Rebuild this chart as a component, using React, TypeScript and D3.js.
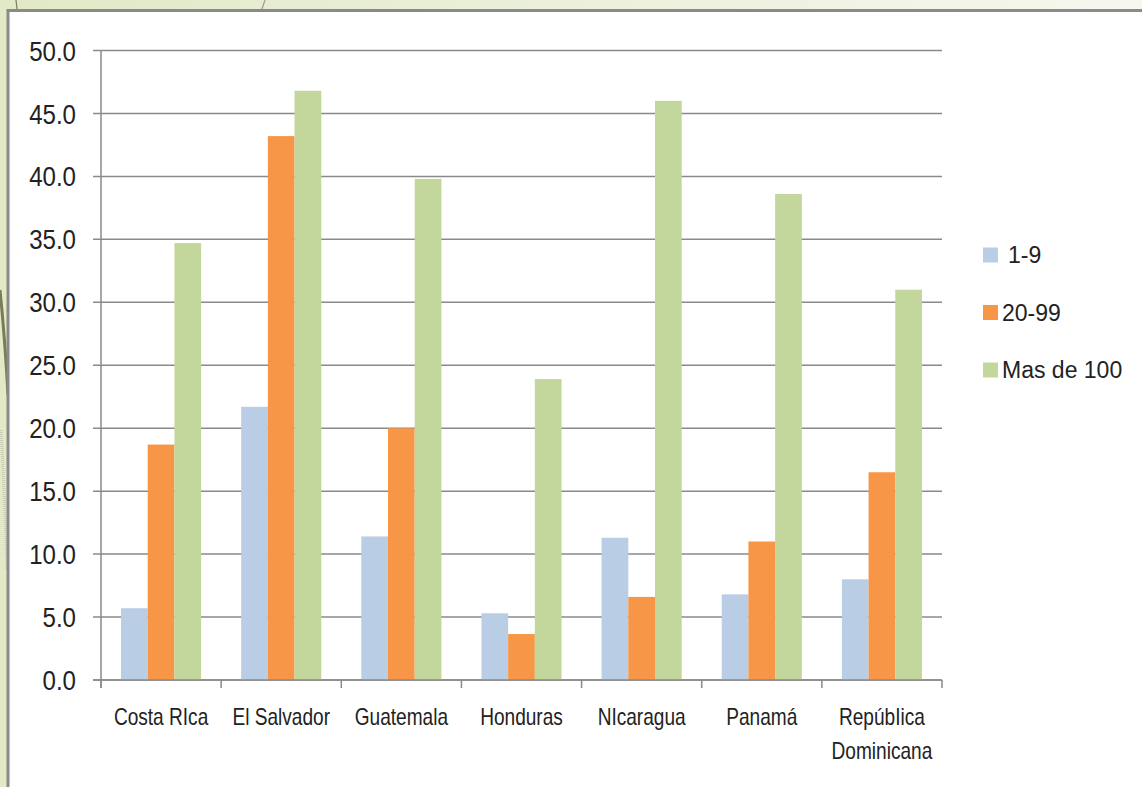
import React, { useRef, useEffect } from "react";
import * as d3 from "d3";

const categories = [
  ["Costa RIca"],
  ["El Salvador"],
  ["Guatemala"],
  ["Honduras"],
  ["NIcaragua"],
  ["Panamá"],
  ["RepúbIica", "Dominicana"],
];
const seriesNames = ["1-9", "20-99", "Mas de 100"];
const small = [5.7, 21.7, 11.4, 5.3, 11.3, 6.8, 8.0];
const medium = [18.7, 43.2, 20.0, 3.65, 6.6, 11.0, 16.5];
const large = [34.7, 46.8, 39.8, 23.9, 46.0, 38.6, 31.0];
const yTicks = [0, 5, 10, 15, 20, 25, 30, 35, 40, 45, 50];
const colors = ["#b9cde5", "#f79646", "#c3d69b"];

const App: React.FC = () => {
  const svgRef = useRef<SVGSVGElement | null>(null);

  useEffect(() => {
    const width = 1142;
    const height = 787;
    const margin = { top: 50.5, right: 200, bottom: 107, left: 101 };

    const svg = d3.select(svgRef.current);
    svg.selectAll("*").remove();

    // page background
    const grad = svg
      .append("defs")
      .append("linearGradient")
      .attr("id", "bg")
      .attr("x1", 0)
      .attr("x2", 1);
    grad.append("stop").attr("offset", 0).attr("stop-color", "#e1e9c7");
    grad.append("stop").attr("offset", 1).attr("stop-color", "#f6f7ef");
    svg.append("rect").attr("width", width).attr("height", height).attr("fill", "url(#bg)");

    // decorative strokes
    svg.append("path").attr("d", "M0,290 Q5,340 8,395").attr("fill", "none")
      .attr("stroke", "#7d7a5a").attr("stroke-width", 3);
    svg.append("path").attr("d", "M1,430 Q5,500 7,570").attr("fill", "none")
      .attr("stroke", "#c9cbb4").attr("stroke-width", 3).attr("stroke-dasharray", "1,1");
    svg.append("line").attr("x1", 16).attr("x2", 17).attr("y1", 0).attr("y2", 9)
      .attr("stroke", "#7d7a5a").attr("stroke-width", 1.2);
    svg.append("line").attr("x1", 265).attr("x2", 262).attr("y1", 0).attr("y2", 9)
      .attr("stroke", "#9a9a8a").attr("stroke-width", 1.2);

    // white panel
    svg.append("rect").attr("x", 8).attr("y", 10.5).attr("width", width).attr("height", height)
      .attr("fill", "#fff").attr("stroke", "#8a8a8a").attr("stroke-width", 3);

    const x0 = d3
      .scaleBand<number>()
      .domain(d3.range(categories.length))
      .range([margin.left, width - margin.right]);
    const bw = x0.bandwidth();
    const x1 = d3
      .scaleBand<number>()
      .domain(d3.range(seriesNames.length))
      .range([bw / 6, (bw * 5) / 6]);
    const y = d3
      .scaleLinear()
      .domain([0, 50])
      .range([height - margin.bottom, margin.top]);

    const font = "'Liberation Sans', Arial, sans-serif";

    // gridlines + y ticks
    const grid = svg.append("g");
    grid
      .selectAll("line")
      .data(yTicks)
      .join("line")
      .attr("x1", margin.left - 8)
      .attr("x2", width - margin.right)
      .attr("y1", (d) => y(d))
      .attr("y2", (d) => y(d))
      .attr("stroke", "#8a8a8a")
      .attr("stroke-width", 1.5);
    grid
      .selectAll("text")
      .data(yTicks)
      .join("text")
      .attr("transform", (d) => `translate(${margin.left - 25},${y(d)}) scale(0.86,1)`)
      .attr("dy", "0.36em")
      .attr("text-anchor", "end")
      .style("font-family", font)
      .style("font-size", "28px")
      .attr("fill", "#222")
      .text((d) => d3.format(".1f")(d));

    // bars
    const series = [small, medium, large];
    const groups = svg
      .append("g")
      .selectAll("g")
      .data(categories.map((_, i) => i))
      .join("g")
      .attr("transform", (i) => `translate(${x0(i)},0)`);
    groups
      .selectAll("rect")
      .data((i) => series.map((s, k) => ({ k, v: s[i] })))
      .join("rect")
      .attr("x", (d) => x1(d.k)!)
      .attr("width", x1.bandwidth())
      .attr("y", (d) => y(d.v))
      .attr("height", (d) => y(0) - y(d.v))
      .attr("fill", (d) => colors[d.k]);

    // axis
    const axis = svg.append("g").attr("stroke", "#8a8a8a").attr("stroke-width", 1.5);
    axis.append("line")
      .attr("x1", margin.left).attr("x2", margin.left)
      .attr("y1", y(50)).attr("y2", y(0) + 8);
    axis.append("line")
      .attr("x1", margin.left - 8).attr("x2", width - margin.right)
      .attr("y1", y(0)).attr("y2", y(0));
    axis
      .selectAll("line.tick")
      .data(d3.range(categories.length + 1))
      .join("line")
      .attr("class", "tick")
      .attr("x1", (i) => margin.left + i * bw)
      .attr("x2", (i) => margin.left + i * bw)
      .attr("y1", y(0))
      .attr("y2", y(0) + 8);

    // category labels
    const labels = svg
      .append("g")
      .selectAll("text")
      .data(categories)
      .join("text")
      .attr("transform", (_, i) => `translate(${x0(i)! + bw / 2},${y(0) + 45}) scale(0.83,1)`)
      .attr("text-anchor", "middle")
      .style("font-family", font)
      .style("font-size", "23px")
      .attr("fill", "#222");
    labels.each(function (lines) {
      const t = d3.select(this);
      lines.forEach((line, j) => {
        t.append("tspan")
          .attr("x", 0)
          .attr("dy", j === 0 ? 0 : 34)
          .text(line);
      });
    });

    // legend
    const legend = svg
      .append("g")
      .selectAll("g")
      .data(seriesNames)
      .join("g")
      .attr("transform", (_, i) => `translate(983,${255 + i * 57.5})`);
    legend
      .append("rect")
      .attr("x", 0)
      .attr("y", -7.5)
      .attr("width", 15)
      .attr("height", 15)
      .attr("fill", (_, i) => colors[i]);
    legend
      .append("text")
      .attr("x", (_, i) => (i === 0 ? 25 : 19))
      .attr("dy", "0.36em")
      .style("font-family", font)
      .style("font-size", "23px")
      .attr("fill", "#222")
      .text((d) => d);
  }, []);

  return (
    <svg
      ref={svgRef}
      width={1142}
      height={787}
      style={{ position: "absolute", left: 0, top: 0, display: "block" }}
    />
  );
};

export default App;
